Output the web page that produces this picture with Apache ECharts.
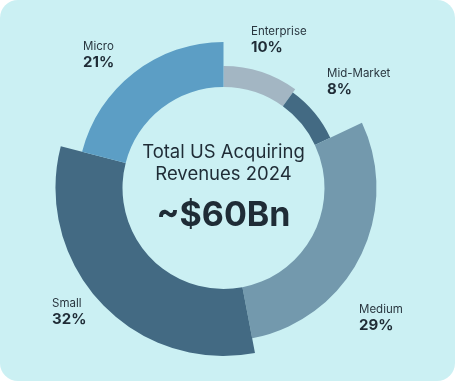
<!DOCTYPE html>
<html>
<head>
<meta charset="utf-8">
<script src="https://cdn.jsdelivr.net/npm/echarts@6/dist/echarts.min.js"></script>
<style>
html,body{margin:0;padding:0;background:#ffffff;}
#chart{width:459px;height:383px;}
</style>
</head>
<body>
<div id="chart"></div>
<script>
// ---- data ----
const categories = ['Enterprise', 'Mid-Market', 'Medium', 'Small', 'Micro'];
const shares = [10, 8, 29, 32, 21];
const titleLines = ['Total US Acquiring', 'Revenues 2024'];
const totalLabel = '~$60Bn';

// ---- styling / layout ----
const colors = ['#a3b6c3', '#436a83', '#7399ad', '#436a83', '#5c9ec5'];
const outerRadii = [122, 118, 153, 168, 146];
const innerRadius = 101;
const cx = 223.5, cy = 188;
const labelOffsets = [[27.5, -163], [103.5, -121], [135.5, 115], [-171.5, 109], [-140.5, -148]];
const font = 'Inter, "Noto Sans", sans-serif';
const textColor = '#1f2c36';

const chart = echarts.init(document.getElementById('chart'), null, {renderer: 'canvas'});

const series = categories.map(function (cat, i) {
  return {
    type: 'pie',
    center: [cx, cy],
    radius: [innerRadius, outerRadii[i]],
    startAngle: 90,
    clockwise: true,
    silent: true,
    avoidLabelOverlap: false,
    emphasis: {disabled: true},
    labelLine: {show: false},
    itemStyle: {borderWidth: 0},
    label: {show: false},
    labelLayout: function (p) {
      if (p.dataIndex !== i) return {};
      return {x: cx + labelOffsets[i][0], y: cy + labelOffsets[i][1], align: 'left', verticalAlign: 'top'};
    },
    data: categories.map(function (c, j) {
      return {
        name: c,
        value: shares[j],
        itemStyle: {color: j === i ? colors[i] : 'rgba(0,0,0,0)'},
        label: j === i ? {
          show: true,
          position: 'outside',
          formatter: '{n|{b}}\n{p|{c}%}',
          rich: {
            n: {fontFamily: font, fontSize: 11.5, color: '#2a3740', lineHeight: 14, align: 'left'},
            p: {fontFamily: font, fontSize: 15, fontWeight: 'bold', color: textColor, lineHeight: 16, align: 'left'}
          }
        } : {show: false}
      };
    })
  };
});

chart.setOption({
  animation: false,
  graphic: [
    {type: 'rect', z: -10, shape: {x: 0, y: 0, width: 455, height: 381, r: 18}, style: {fill: '#cbf0f3'}},
    {type: 'text', z: 10, x: cx, y: 152, style: {text: titleLines[0], font: '400 18.5px ' + font, fill: textColor, textAlign: 'center', textVerticalAlign: 'middle'}},
    {type: 'text', z: 10, x: cx, y: 174, style: {text: titleLines[1], font: '400 18.5px ' + font, fill: textColor, textAlign: 'center', textVerticalAlign: 'middle'}},
    {type: 'text', z: 10, x: cx, y: 216, style: {text: totalLabel, font: 'bold 34px ' + font, fill: textColor, textAlign: 'center', textVerticalAlign: 'middle'}}
  ],
  series: series
});
</script>
</body>
</html>
